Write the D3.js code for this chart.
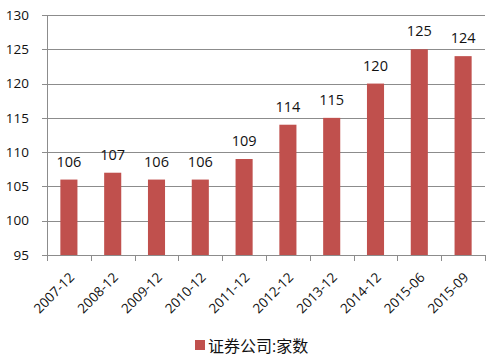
<!DOCTYPE html>
<html><head><meta charset="utf-8">
<script src="https://cdn.jsdelivr.net/npm/d3@7/dist/d3.min.js"></script>
<style>body{margin:0;background:#fff}</style>
</head><body>
<script>
const categories = ["2007-12","2008-12","2009-12","2010-12","2011-12","2012-12","2013-12","2014-12","2015-06","2015-09"];
const values = [106,107,106,106,109,114,115,120,125,124];
const yTicks = [95,100,105,110,115,120,125,130];
const seriesName = "证券公司:家数";

(function(){
const W=504,H=360;
const mLeft=47,mRight=485,mTop=15,mBottom=255;
const font="'Open Sans', 'Noto Sans CJK SC', sans-serif";
const svg=d3.select("body").append("svg").attr("width",W).attr("height",H);
const x=d3.scaleBand().domain(categories).range([mLeft,mRight]).paddingInner(0.61).paddingOuter(0.305);
const y=d3.scaleLinear().domain([95,130]).range([mBottom,mTop]);

svg.append("g").selectAll("line").data(yTicks).join("line")
  .attr("x1",mLeft-5).attr("x2",mRight).attr("y1",d=>Math.round(y(d))+0.5).attr("y2",d=>Math.round(y(d))+0.5)
  .attr("stroke","#8c8c8c").attr("stroke-width",1);

svg.append("g").selectAll("text").data(yTicks).join("text")
  .attr("x",29).attr("y",d=>y(d)).attr("dy","0.35em").attr("text-anchor","end")
  .attr("font-family",font).attr("font-size",13.5).attr("fill","#111").text(d=>d);

svg.append("g").selectAll("rect").data(values).join("rect")
  .attr("x",(d,i)=>x(categories[i])).attr("width",x.bandwidth())
  .attr("y",d=>y(d)).attr("height",d=>mBottom-y(d))
  .attr("fill","#c0504d");

svg.append("line").attr("x1",mLeft+0.5).attr("x2",mLeft+0.5).attr("y1",mTop).attr("y2",mBottom)
  .attr("stroke","#8c8c8c");
svg.append("line").attr("x1",mLeft).attr("x2",mRight).attr("y1",mBottom+0.5).attr("y2",mBottom+0.5)
  .attr("stroke","#8c8c8c");
const bounds=d3.range(categories.length+1).map(i=>mLeft+i*(mRight-mLeft)/categories.length);
svg.append("g").selectAll("line").data(bounds).join("line")
  .attr("x1",d=>Math.round(d)+0.5).attr("x2",d=>Math.round(d)+0.5).attr("y1",mBottom).attr("y2",mBottom+6)
  .attr("stroke","#8c8c8c");

svg.append("g").selectAll("text").data(values).join("text")
  .attr("x",(d,i)=>x(categories[i])+x.bandwidth()/2).attr("y",d=>y(d)-13)
  .attr("text-anchor","middle").attr("font-family",font).attr("font-size",14.5).attr("fill","#111").text(d=>d);

svg.append("g").selectAll("text").data(categories).join("text")
  .attr("transform",d=>`translate(${x(d)+x.bandwidth()/2+3},${mBottom+20}) rotate(-45)`)
  .attr("text-anchor","end").attr("dy","0.35em")
  .attr("font-family",font).attr("font-size",13.5).attr("fill","#111").text(d=>d);

svg.append("rect").attr("x",195).attr("y",340).attr("width",10).attr("height",10).attr("fill","#c0504d");
svg.append("text").attr("x",208).attr("y",346).attr("dy","0.35em")
  .attr("font-family",font).attr("font-size",16).attr("fill","#111").text(seriesName);
})();
</script>
</body></html>
